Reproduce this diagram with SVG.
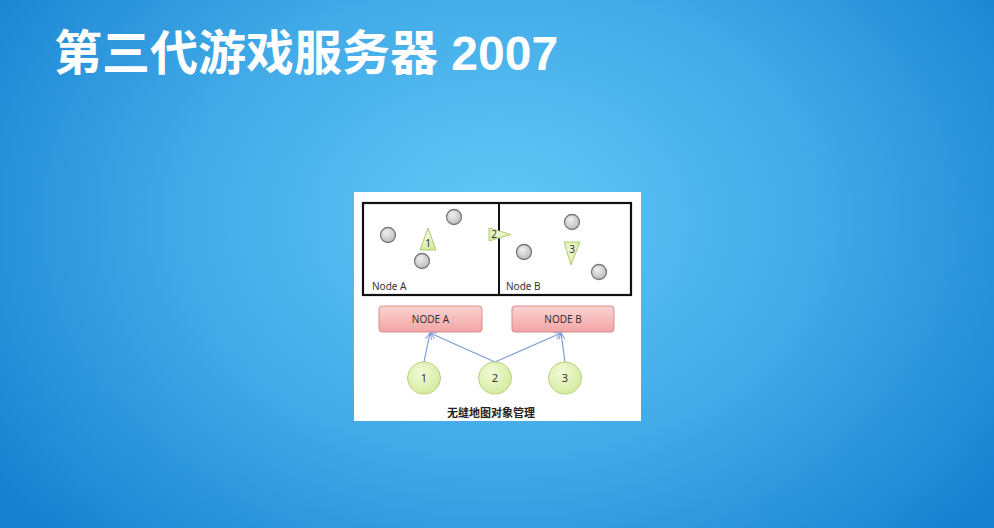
<svg xmlns="http://www.w3.org/2000/svg" width="994" height="528" viewBox="0 0 994 528">
<defs>
<radialGradient id="bg" cx="500" cy="220" r="620" gradientUnits="userSpaceOnUse" gradientTransform="translate(500 220) scale(1 0.75) translate(-500 -220)">
<stop offset="0" stop-color="#62c9f6"/>
<stop offset="0.5" stop-color="#42abe8"/>
<stop offset="1" stop-color="#1680d0"/>
</radialGradient>
<linearGradient id="pink" x1="0" y1="0" x2="0" y2="1">
<stop offset="0" stop-color="#fbd3d3"/>
<stop offset="1" stop-color="#f2a5a5"/>
</linearGradient>
<radialGradient id="green" cx="0.4" cy="0.35" r="0.7">
<stop offset="0" stop-color="#f2fad8"/>
<stop offset="1" stop-color="#d4ea9c"/>
</radialGradient>
<radialGradient id="gray" cx="0.4" cy="0.35" r="0.7">
<stop offset="0" stop-color="#f0f0f0"/>
<stop offset="1" stop-color="#b8b8b8"/>
</radialGradient>
<marker id="arr" viewBox="0 0 10 10" refX="9" refY="5" markerWidth="8" markerHeight="8" orient="auto" markerUnits="userSpaceOnUse">
<path d="M1 1 L9 5 L1 9" fill="none" stroke="#7d9bd0" stroke-width="1.2"/>
</marker>
<style>
.title{font-family:"Liberation Sans","Noto Sans CJK SC",sans-serif;font-weight:bold;font-size:48px;fill:#ffffff}
.obj{fill:url(#gray);stroke:#7a7a7a;stroke-width:1.3}
.tri{fill:url(#green);stroke:#b2cc78;stroke-width:1}
.lab{font-family:"Noto Sans","Liberation Sans",sans-serif;font-size:10px;fill:#333}
.num{font-family:"Noto Sans","Liberation Sans",sans-serif;font-size:11px;fill:#333}
.small{font-family:"Noto Sans","Liberation Sans",sans-serif;font-size:10px;fill:#333}
.box{fill:url(#pink);stroke:#d88c8c;stroke-width:1}
.ell{fill:url(#green);stroke:#b8d080;stroke-width:1}
.conn{stroke:#7d9bd0;stroke-width:1.2;fill:none}
.cap{font-family:"Noto Sans CJK SC",sans-serif;font-weight:bold;font-size:11px;fill:#222}
</style>
</defs>
<rect width="994" height="528" fill="url(#bg)"/>
<text class="title" x="54" y="70">第三代游戏服务器 2007</text>

<rect x="354" y="192" width="287" height="229" fill="#ffffff"/>

<g id="map">
<rect x="363" y="203" width="268" height="92" fill="none" stroke="#111" stroke-width="2.2"/>
<line x1="499" y1="203" x2="499" y2="295" stroke="#111" stroke-width="2"/>
<text class="small" x="372" y="290">Node A</text>
<text class="small" x="506" y="290">Node B</text>
</g>
<g id="objects">
<circle class="obj" cx="388" cy="235" r="7.5"/>
<circle class="obj" cx="454" cy="217" r="7.5"/>
<circle class="obj" cx="422" cy="261" r="7.5"/>
<circle class="obj" cx="572" cy="222" r="7.5"/>
<circle class="obj" cx="524" cy="252" r="7.5"/>
<circle class="obj" cx="599" cy="272" r="7.5"/>
</g>
<g id="tri1">
<polygon class="tri" points="428,228 420,250 436,250"/>
<text class="lab" x="428" y="247" text-anchor="middle">1</text>
</g>
<g id="tri2">
<polygon class="tri" points="489,228 489,241 511,234.5"/>
<text class="lab" x="494" y="238" text-anchor="middle">2</text>
</g>
<g id="tri3">
<polygon class="tri" points="564,242 580,242 571,265"/>
<text class="lab" x="572" y="253" text-anchor="middle">3</text>
</g>

<g id="nodeA">
<rect class="box" x="379" y="306" width="103" height="26" rx="3"/>
<text class="lab" x="430.5" y="323" text-anchor="middle">NODE A</text>
</g>
<g id="nodeB">
<rect class="box" x="512" y="306" width="102" height="26" rx="3"/>
<text class="lab" x="563" y="323" text-anchor="middle">NODE B</text>
</g>

<g id="connectors">
<line class="conn" x1="424" y1="362" x2="430" y2="333" marker-end="url(#arr)"/>
<line class="conn" x1="495" y1="362" x2="430" y2="333" marker-end="url(#arr)"/>
<line class="conn" x1="495" y1="362" x2="561" y2="333" marker-end="url(#arr)"/>
<line class="conn" x1="565" y1="362" x2="561" y2="333" marker-end="url(#arr)"/>
</g>

<g id="c1">
<ellipse class="ell" cx="424" cy="378" rx="16.5" ry="16"/>
<text class="num" x="424" y="382" text-anchor="middle">1</text>
</g>
<g id="c2">
<ellipse class="ell" cx="495" cy="378" rx="16.5" ry="16"/>
<text class="num" x="495" y="382" text-anchor="middle">2</text>
</g>
<g id="c3">
<ellipse class="ell" cx="565" cy="378" rx="16.5" ry="16"/>
<text class="num" x="565" y="382" text-anchor="middle">3</text>
</g>

<text class="cap" x="491" y="417" text-anchor="middle">无缝地图对象管理</text>
</svg>
